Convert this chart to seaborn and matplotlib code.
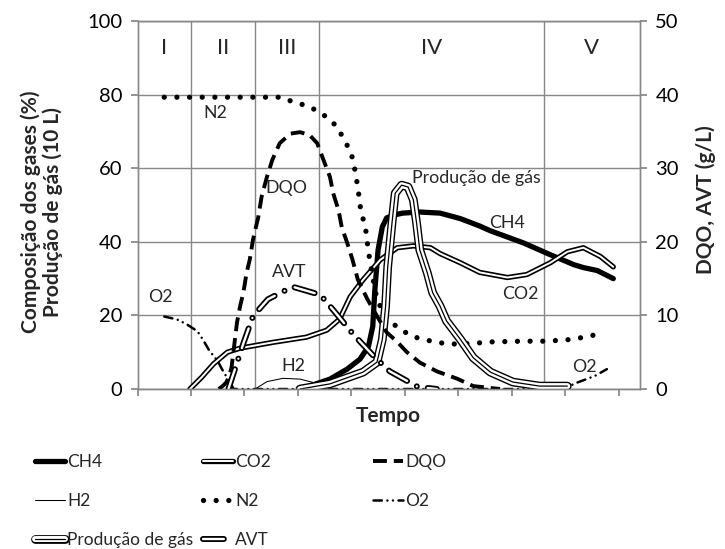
import matplotlib
matplotlib.use("Agg")
import matplotlib.pyplot as plt
import matplotlib.patheffects as pe
import seaborn as sns

# Fases do processo (eixo do tempo em unidades de categoria)
fases = ["I", "II", "III", "IV", "V"]
limites_fases = [5, 11, 17, 38]
centro_fases = [2.5, 8, 14, 27.5, 42.5]

# Composição dos gases (%) e produção de gás (10 L) - eixo esquerdo
ch4_t = [15.3, 16.5, 18.0, 19.6, 20.8, 21.6, 22.0, 22.2, 22.5, 22.9, 23.3, 24.0, 24.8,
         26.4, 28.3, 30.2, 32.0, 33.0, 36.1, 38.6, 40.8, 41.7, 43.0, 44.5]
ch4 = [0, 1.2, 2.7, 5.4, 8.1, 11.6, 17.0, 27.0, 37.8, 44.1, 46.5, 47.3, 47.8,
       48.1, 47.8, 46.3, 44.3, 43.0, 39.7, 36.5, 33.8, 33.0, 32.2, 30.0]

co2_t = [4.9, 6.0, 7.1, 8.4, 9.6, 12.7, 15.8, 17.7, 18.9, 19.9, 21.1, 22.7, 24.3, 25.8,
         27.4, 28.3, 30.2, 32.0, 34.6, 36.4, 38.6, 40.2, 41.7, 43.3, 44.5]
co2 = [0, 3.2, 6.8, 10.0, 11.1, 12.7, 14.1, 16.0, 19.0, 25.1, 29.7, 35.1, 38.4, 38.9,
       38.4, 36.8, 34.3, 31.7, 30.3, 31.1, 34.3, 37.3, 38.4, 36.0, 33.2]

h2_t = [11.0, 12.1, 13.6, 15.2, 16.4, 17.7, 18.5]
h2 = [0, 2.0, 2.9, 2.7, 1.8, 0.45, 0]

n2_t = [2.5, 13.5, 14.7, 15.9, 16.9, 17.9, 18.8, 19.3, 19.9, 20.2, 20.4, 20.6, 20.9, 21.3,
        21.6, 22.0, 22.4, 23.0, 23.6, 24.6, 25.7, 26.7, 28.0, 29.2, 31.4, 33.0, 36.0,
        38.0, 40.0, 41.2, 42.4, 43.5]
n2 = [79.3, 79.3, 77.8, 77.0, 75.4, 73.5, 70.8, 67.6, 64.9, 61.6, 58.4, 54.9, 48.1, 44.3,
      37.3, 30.3, 24.3, 20.8, 18.4, 16.2, 14.3, 13.5, 12.7, 12.2, 12.4, 12.8, 13.0,
      13.0, 13.3, 13.8, 14.4, 15.5]

o2_t = [2.5, 3.7, 4.6, 5.6, 6.1, 6.7, 7.5, 7.9, 9.0, 40.0, 40.8, 42.0, 42.8, 43.9]
o2 = [19.7, 18.9, 17.6, 15.7, 13.5, 10.5, 7.6, 5.4, 0, 0, 1.4, 2.7, 3.6, 5.4]

prod_t = [15.2, 18.0, 21.1, 22.4, 22.9, 23.2, 23.4, 23.8, 24.1, 24.7, 25.3, 25.8, 26.1,
          26.4, 27.1, 27.6, 28.3, 28.9, 30.2, 31.4, 33.0, 35.1, 37.6, 40.2]
prod = [0, 1.4, 4.6, 7.3, 13.5, 22.4, 33.2, 45.1, 53.2, 55.4, 54.9, 51.4, 45.1,
        37.8, 31.6, 26.2, 22.5, 18.5, 13.5, 8.5, 4.6, 1.9, 0.8, 0.8]

# DQO e AVT (g/L) - eixo direito
dqo_t = [7.6, 8.0, 8.3, 8.6, 8.8, 9.0, 9.3, 9.6, 9.9, 10.2, 10.5, 10.8, 11.3, 11.6, 12.1,
         12.6, 13.3, 14.3, 15.2, 16.1, 16.8, 17.4, 18.0, 18.3, 18.8, 19.1, 19.6, 20.1,
         20.6, 21.5, 22.4, 23.3, 24.3, 25.2, 26.4, 28.0, 29.9, 31.4, 33.9]
dqo = [0, 0.45, 0.9, 1.8, 3.0, 5.4, 9.0, 11.3, 13.1, 15.8, 17.6, 20.3, 23.4, 26.1, 28.8,
       31.1, 33.4, 34.7, 34.9, 34.5, 33.4, 31.1, 28.8, 26.6, 24.3, 22.0, 19.9, 17.6,
       14.9, 12.2, 9.9, 7.7, 6.4, 5.0, 3.6, 2.4, 1.4, 0.4, 0]

avt_t = [8.5, 9.9, 10.8, 12.2, 14.5, 17.1, 18.5, 20.2, 22.2, 23.6, 26.2, 28.0]
avt = [0, 6.2, 9.9, 12.2, 13.9, 12.8, 10.4, 7.4, 4.3, 2.4, 0.3, 0]

sns.set_theme(style="white")
plt.rcParams["font.family"] = ["Lato", "DejaVu Sans"]
plt.rcParams["lines.scale_dashes"] = False

cinza = "#878787"
fig = plt.figure(figsize=(7.25, 5.49), dpi=100)
ax = fig.add_axes([0.1897, 0.2914, 0.6931, 0.6703])
ax2 = ax.twinx()


def linha(eixo, x, y, **kw):
    sns.lineplot(x=x, y=y, ax=eixo, legend=False, **kw)
    return eixo.lines[-1]


l_ch4 = linha(ax, ch4_t, ch4, color="black", lw=3.8, solid_capstyle="round", label="CH4")
l_co2 = linha(ax, co2_t, co2, color="white", lw=1.4, solid_capstyle="round", label="CO2",
              path_effects=[pe.Stroke(linewidth=3.8, foreground="black"), pe.Normal()])
l_h2 = linha(ax, h2_t, h2, color="black", lw=0.75, label="H2")
l_n2 = linha(ax, n2_t, n2, color="black", lw=3.8, linestyle=(0, (0.01, 9.1)),
             dash_capstyle="round", label="N2")
l_o2 = linha(ax, o2_t, o2, color="black", lw=1.8, linestyle=(0, (6, 4, 0.01, 4, 0.01, 4)),
             dash_capstyle="round", label="O2")
l_prod = linha(ax, prod_t, prod, color="black", lw=0.9, solid_capstyle="round",
               label="Produção de gás",
               path_effects=[pe.Stroke(linewidth=6.3, foreground="black"),
                             pe.Stroke(linewidth=4.3, foreground="white"), pe.Normal()])
l_dqo = linha(ax2, dqo_t, dqo, color="black", lw=2.8, linestyle=(0, (10, 5)),
              label="DQO")
l_avt = linha(ax2, avt_t, avt, color="white", lw=1.7, linestyle=(0, (15, 8, 0.01, 8)),
              dash_capstyle="round", label="AVT",
              path_effects=[pe.Stroke(linewidth=4.3, foreground="black"), pe.Normal()])

for a in (ax, ax2):
    if a.get_legend() is not None:
        a.get_legend().remove()

# eixos
ax.set_xlim(0, 47)
ax.set_ylim(0, 100)
ax2.set_ylim(0, 50)
ax.set_xticks(range(0, 47, 5))
ax.set_xticklabels([])
ax.set_yticks(range(0, 101, 20))
ax2.set_yticks(range(0, 51, 10))
ax.yaxis.grid(True, color=cinza, lw=1)
ax.xaxis.grid(False)
ax2.grid(False)
for x in limites_fases:
    ax.axvline(x, color=cinza, lw=1, zorder=0.5)
for a in (ax, ax2):
    for s in a.spines.values():
        s.set_color(cinza)
        s.set_linewidth(1)
ax.tick_params(axis="both", length=5, color=cinza, labelsize=14.5, labelcolor="black",
               left=True, bottom=True, direction="out", pad=6)
ax2.tick_params(axis="y", length=5, color=cinza, labelsize=14.5, labelcolor="black",
                right=True, direction="out", pad=6)
ax.set_xlabel("Tempo", fontsize=15, fontweight="bold", labelpad=1)
ax.set_ylabel("")
ax2.set_ylabel("")
fig.text(42 / 725, 1 - 212 / 549, "Composição dos gases (%)\nProdução de gás (10 L)",
         rotation=90, ha="center", va="center", multialignment="center",
         fontsize=15, fontweight="bold", linespacing=1.1)
fig.text(706 / 725, 1 - 200 / 549, "DQO, AVT (g/L)", rotation=90, ha="center",
         va="center", fontsize=15, fontweight="bold")

# fases
for nome, xc in zip(fases, centro_fases):
    ax.text(xc, 92.7, nome, ha="center", va="center", fontsize=16)

# rótulos das curvas
rotulos = {"N2": (7.3, 74.9), "DQO": (13.9, 54.6), "AVT": (14.2, 31.9), "O2": (2.1, 25.1),
           "H2": (14.6, 6.2), "Produção de gás": (31.7, 57.3), "CH4": (34.6, 45.1),
           "CO2": (35.8, 25.7), " O2": (41.8, 5.9)}
for txt, (tx, ty) in rotulos.items():
    ax.text(tx, ty, txt.strip(), ha="center", va="center", fontsize=12.8)

# legenda em três colunas
colunas = [([l_ch4, l_h2, l_prod], 35), ([l_co2, l_n2, l_avt], 203), ([l_dqo, l_o2], 373)]
for hs, xpx in colunas:
    fig.legend(handles=hs, labels=[h.get_label() for h in hs], loc="upper left",
               bbox_to_anchor=(xpx / 725, 1 - 454 / 549), frameon=False, fontsize=12.5,
               handlelength=1.75, handletextpad=0.1, labelspacing=1.32, borderpad=0,
               borderaxespad=0)

fig.savefig("out.png", dpi=100)
